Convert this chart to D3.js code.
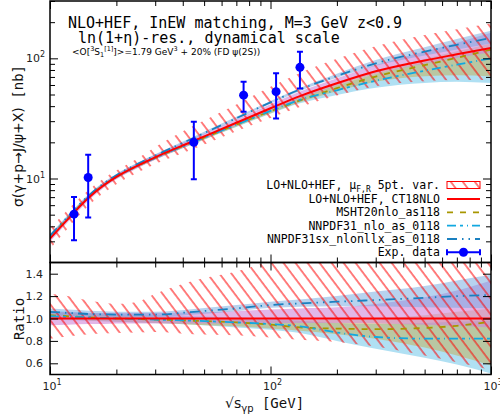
<!DOCTYPE html>
<html>
<head>
<meta charset="utf-8">
<script src="https://cdn.jsdelivr.net/npm/d3@7.9.0/dist/d3.min.js"></script>
<style>
  body { margin: 0; background: #fff; }
  svg { display: block; }
</style>
</head>
<body>
<svg id="chart" width="500" height="416"></svg>
<script>
const energies = [10, 12, 15, 17.5, 20, 25, 30, 45, 70, 100, 136, 200, 300, 500, 700, 1000];

// central prediction LO+NLO+HEF, CT18NLO [nb]
const central = [3.16, 4.55, 6.95, 8.76, 10.3, 12.8, 15.0, 20.6, 29.1, 38.4, 48.5, 62, 78, 96, 108, 122];

// ratios to central
const scaleLo = [0.82, 0.84, 0.86, 0.865, 0.87, 0.875, 0.88, 0.86, 0.85, 0.83, 0.81, 0.79, 0.75, 0.67, 0.61, 0.54];
const scaleHi = [1.22, 1.20, 1.16, 1.14, 1.13, 1.15, 1.22, 1.34, 1.42, 1.51, 1.56, 1.60, 1.62, 1.63, 1.62, 1.60];

const ctLo = [0.94, 0.945, 0.95, 0.952, 0.955, 0.955, 0.955, 0.955, 0.955, 0.96, 0.96, 0.96, 0.955, 0.945, 0.935, 0.92];
const ctHi = [1.06, 1.055, 1.05, 1.05, 1.05, 1.05, 1.05, 1.055, 1.065, 1.08, 1.09, 1.10, 1.13, 1.19, 1.25, 1.34];

const mshtMid = [1.03, 1.02, 1.01, 1.005, 1.0, 0.995, 0.99, 0.98, 0.965, 0.945, 0.92, 0.91, 0.905, 0.915, 0.935, 0.97];
const mshtLo = [1.0, 0.99, 0.98, 0.975, 0.97, 0.965, 0.96, 0.945, 0.93, 0.91, 0.89, 0.86, 0.82, 0.74, 0.67, 0.58];
const mshtHi = [1.06, 1.05, 1.04, 1.035, 1.03, 1.02, 1.015, 1.0, 0.995, 0.985, 0.985, 0.99, 1.0, 1.03, 1.06, 1.09];

const nnMid = [1.02, 1.015, 1.01, 1.005, 1.0, 0.995, 0.99, 0.98, 0.965, 0.95, 0.93, 0.875, 0.835, 0.82, 0.82, 0.82];
const nnLo = [0.99, 0.985, 0.98, 0.975, 0.97, 0.965, 0.96, 0.945, 0.92, 0.9, 0.87, 0.8, 0.73, 0.65, 0.59, 0.51];
const nnHi = [1.07, 1.06, 1.05, 1.045, 1.04, 1.035, 1.03, 1.02, 1.01, 1.0, 0.98, 0.96, 0.95, 0.96, 0.97, 0.98];

const sxMid = [1.06, 1.05, 1.04, 1.037, 1.035, 1.035, 1.035, 1.06, 1.09, 1.12, 1.135, 1.15, 1.165, 1.185, 1.2, 1.21];
const sxLo = [1.03, 1.025, 1.02, 1.017, 1.015, 1.015, 1.015, 1.035, 1.065, 1.095, 1.105, 1.11, 1.11, 1.10, 1.095, 1.09];
const sxHi = [1.09, 1.08, 1.07, 1.065, 1.06, 1.06, 1.06, 1.085, 1.12, 1.15, 1.17, 1.2, 1.24, 1.29, 1.34, 1.39];

// experimental data
const dataX = [12.85, 14.9, 44.9, 75.5, 106, 136];
const dataY = [5.05, 10.2, 20, 49.4, 52.8, 84.1];
const dataLo = [3.06, 4.73, 9.86, 35.9, 31.6, 56.2];
const dataHi = [7.0, 15.8, 29.7, 63.8, 75, 113.5];

const legendLabels = ['LO+NLO+HEF, μ', 'LO+NLO+HEF, CT18NLO', 'MSHT20nlo_as118',
  'NNPDF31_nlo_as_0118', 'NNPDF31sx_nlonllx_as_0118', 'Exp. data'];

const mono = 'DejaVu Sans Mono';
const sans = 'DejaVu Sans';

const svg = d3.select('#chart');
const left = 50, right = 491;
const mainTop = 1, mainBottom = 262.5, ratTop = 262.5, ratBottom = 374.5;

const x = d3.scaleLog().domain([10, 1000]).range([left, right]);
const yMain = d3.scaleLog().domain([2, 300]).range([mainBottom, mainTop]);
const yRat = d3.scaleLinear().domain([0.5, 1.5]).range([ratBottom, ratTop]);

const defs = svg.append('defs');
const hatch = defs.append('pattern')
  .attr('id', 'hatch')
  .attr('patternUnits', 'userSpaceOnUse')
  .attr('width', 9.6).attr('height', 9.6)
  .attr('patternTransform', 'rotate(-37)');
hatch.append('line')
  .attr('x1', 1).attr('y1', 0).attr('x2', 1).attr('y2', 9.6)
  .attr('stroke', '#ff0000').attr('stroke-width', 1);

defs.append('clipPath').attr('id', 'clipMain').append('rect')
  .attr('x', left).attr('y', mainTop).attr('width', right - left).attr('height', mainBottom - mainTop);
defs.append('clipPath').attr('id', 'clipRat').append('rect')
  .attr('x', left).attr('y', ratTop).attr('width', right - left).attr('height', ratBottom - ratTop);

const idx = d3.range(energies.length);

const bands = [
  { lo: nnLo, hi: nnHi, fill: '#8fd3ee', op: 0.7 },
  { lo: mshtLo, hi: mshtHi, fill: '#c9a227', op: 0.4 },
  { lo: ctLo, hi: ctHi, fill: '#cf85d8', op: 0.6 },
  { lo: sxLo, hi: sxHi, fill: '#6fa8e0', op: 0.5 }
];

const lines = [
  { v: mshtMid, color: '#a89600', dash: '6,7', w: 1.8 },
  { v: nnMid, color: '#12a8e0', dash: '9,4,3,4,1,4', w: 1.8 },
  { v: sxMid, color: '#1a80c0', dash: '10,5,1.5,5,1.5,5', w: 1.8 }
];

function drawPanel(g, yScale, factor) {
  const val = (arr, i) => arr[i] * factor(i);
  bands.forEach(b => {
    g.append('path')
      .datum(idx)
      .attr('d', d3.area().curve(d3.curveMonotoneX)
        .x(i => x(energies[i]))
        .y0(i => yScale(val(b.lo, i)))
        .y1(i => yScale(val(b.hi, i))))
      .attr('fill', b.fill)
      .attr('fill-opacity', b.op);
  });
  g.append('path')
    .datum(idx)
    .attr('d', d3.area().curve(d3.curveMonotoneX)
      .x(i => x(energies[i]))
      .y0(i => yScale(val(scaleLo, i)))
      .y1(i => yScale(val(scaleHi, i))))
    .attr('fill', 'url(#hatch)');
  lines.forEach(l => {
    g.append('path')
      .datum(idx)
      .attr('d', d3.line().curve(d3.curveMonotoneX)
        .x(i => x(energies[i]))
        .y(i => yScale(val(l.v, i))))
      .attr('fill', 'none')
      .attr('stroke', l.color)
      .attr('stroke-width', l.w)
      .attr('stroke-dasharray', l.dash);
  });
  g.append('path')
    .datum(idx)
    .attr('d', d3.line().curve(d3.curveMonotoneX)
      .x(i => x(energies[i]))
      .y(i => yScale(factor(i))))
    .attr('fill', 'none')
    .attr('stroke', '#ff0000')
    .attr('stroke-width', 2);
}

// main panel
const gMain = svg.append('g').attr('clip-path', 'url(#clipMain)');
drawPanel(gMain, yMain, i => central[i]);

// data points
const gData = gMain.append('g').attr('class', 'data');
dataX.forEach((dx, i) => {
  const px = x(dx);
  gData.append('line')
    .attr('x1', px).attr('x2', px)
    .attr('y1', yMain(dataLo[i])).attr('y2', yMain(dataHi[i]))
    .attr('stroke', '#0000ff').attr('stroke-width', 2);
  [dataLo[i], dataHi[i]].forEach(v => {
    gData.append('line')
      .attr('x1', px - 3).attr('x2', px + 3)
      .attr('y1', yMain(v)).attr('y2', yMain(v))
      .attr('stroke', '#0000ff').attr('stroke-width', 2);
  });
  gData.append('circle')
    .attr('cx', px).attr('cy', yMain(dataY[i])).attr('r', 4.5)
    .attr('fill', '#0000ff');
});

// ratio panel
const gRat = svg.append('g').attr('clip-path', 'url(#clipRat)');
drawPanel(gRat, yRat, () => 1);

// ticks
function tickSet(y0, axisFn, scale, values, size, pos) {
  const g = svg.append('g');
  if (pos === 'x') g.attr('transform', `translate(0,${y0})`);
  else g.attr('transform', `translate(${y0},0)`);
  g.call(axisFn(scale).tickValues(values).tickSize(size).tickFormat(''));
  g.select('.domain').remove();
  g.selectAll('.tick line').attr('stroke', '#000').attr('stroke-width', 1);
}

const xMajor = [10, 100, 1000];
const xMinor = [20, 30, 40, 50, 60, 70, 80, 90, 200, 300, 400, 500, 600, 700, 800, 900];
const yMajor = [10, 100];
const yMinor = [3, 4, 5, 6, 7, 8, 9, 20, 30, 40, 50, 60, 70, 80, 90, 200, 300];
const ratTicks = [0.6, 0.8, 1.0, 1.2, 1.4];

[mainTop, ratTop].forEach(t => {
  tickSet(t, d3.axisTop, x, xMajor, -8, 'x');
  tickSet(t, d3.axisTop, x, xMinor, -5, 'x');
});
[mainBottom, ratBottom].forEach(b => {
  tickSet(b, d3.axisBottom, x, xMajor, -8, 'x');
  tickSet(b, d3.axisBottom, x, xMinor, -5, 'x');
});
tickSet(left, d3.axisLeft, yMain, yMajor, -8, 'y');
tickSet(left, d3.axisLeft, yMain, yMinor, -5, 'y');
tickSet(right, d3.axisRight, yMain, yMajor, -8, 'y');
tickSet(right, d3.axisRight, yMain, yMinor, -5, 'y');
tickSet(left, d3.axisLeft, yRat, ratTicks, -8, 'y');
tickSet(right, d3.axisRight, yRat, ratTicks, -8, 'y');

// frames
[[mainTop, mainBottom], [ratTop, ratBottom]].forEach(([t, b]) => {
  svg.append('rect')
    .attr('x', left).attr('y', t).attr('width', right - left).attr('height', b - t)
    .attr('fill', 'none').attr('stroke', '#000').attr('stroke-width', 1.5);
});

// tick labels
function powLabel(xp, yp, exp, anchor) {
  const t = svg.append('text')
    .attr('x', xp).attr('y', yp)
    .attr('text-anchor', anchor)
    .attr('font-family', sans).attr('font-size', 11)
    .attr('fill', '#222');
  t.append('tspan').text('10');
  t.append('tspan').attr('dy', -5).attr('font-size', 8).text(exp);
}
yMajor.forEach(v => powLabel(left - 5, yMain(v) + 4, String(Math.round(Math.log10(v))), 'end'));
xMajor.forEach(v => powLabel(x(v) + 2, 390, String(Math.round(Math.log10(v))), 'middle'));

svg.append('g').selectAll('text')
  .data(ratTicks)
  .join('text')
  .attr('x', left - 7).attr('y', d => yRat(d) + 4)
  .attr('text-anchor', 'end')
  .attr('font-family', sans).attr('font-size', 11)
  .attr('fill', '#222')
  .text(d => d.toFixed(1));

// axis titles
const yTitle = svg.append('text')
  .attr('transform', `translate(23,136) rotate(-90)`)
  .attr('text-anchor', 'middle')
  .attr('font-size', 14).attr('fill', '#111');
yTitle.append('tspan').attr('font-family', sans).text('σ(γ+p→J/ψ+X)');
yTitle.append('tspan').attr('font-family', mono).text(' [nb]');

svg.append('text')
  .attr('transform', `translate(24,319) rotate(-90)`)
  .attr('text-anchor', 'middle')
  .attr('font-family', mono).attr('font-size', 14).attr('fill', '#111')
  .text('Ratio');

const xTitle = svg.append('text')
  .attr('x', 225).attr('y', 408)
  .attr('font-size', 14).attr('fill', '#111');
xTitle.append('tspan').attr('font-family', sans).text('√s');
xTitle.append('tspan').attr('font-family', sans).attr('font-size', 10).attr('dy', 4).text('γp');
xTitle.append('tspan').attr('font-family', mono).attr('dy', -4).text(' [GeV]');

// title block
svg.append('text')
  .attr('x', 68).attr('y', 28)
  .attr('font-family', mono).attr('font-size', 15).attr('fill', '#000')
  .text('NLO+HEF, InEW matching, M=3 GeV z<0.9');
svg.append('text')
  .attr('x', 78).attr('y', 42.5)
  .attr('font-family', mono).attr('font-size', 15).attr('fill', '#000')
  .text('ln(1+η)-res., dynamical scale');
const sub = svg.append('text')
  .attr('x', 72).attr('y', 54.5)
  .attr('font-family', sans).attr('font-size', 9).attr('fill', '#000');
sub.append('tspan').text('<O[');
sub.append('tspan').attr('font-size', 6.5).attr('dy', -3.5).text('3');
sub.append('tspan').attr('dy', 3.5).text('S');
sub.append('tspan').attr('font-size', 6.5).attr('dy', 2).text('1');
sub.append('tspan').attr('font-size', 6.5).attr('dy', -6).text('[1]');
sub.append('tspan').attr('dy', 4).text(']>=1.79 GeV');
sub.append('tspan').attr('font-size', 6.5).attr('dy', -3.5).text('3');
sub.append('tspan').attr('dy', 3.5).text(' + 20% (FD ψ(2S))');

// legend
const legRows = [185, 199, 212.3, 225.7, 239, 252.3];
const legText = svg.append('g')
  .attr('font-family', mono).attr('font-size', 11.5).attr('fill', '#000')
  .attr('text-anchor', 'end');
legRows.forEach((ry, i) => {
  const t = legText.append('text').attr('x', 440).attr('y', ry + 4);
  if (i === 0) {
    t.append('tspan').text(legendLabels[0]);
    t.append('tspan').attr('font-size', 8).attr('dy', 3).text('F,R');
    t.append('tspan').attr('dy', -3).text(' 5pt. var.');
  } else {
    t.text(legendLabels[i]);
  }
});
const sx0 = 447, sx1 = 480;
svg.append('rect')
  .attr('x', sx0).attr('y', legRows[0] - 3.5).attr('width', sx1 - sx0).attr('height', 7)
  .attr('fill', 'url(#hatch)').attr('stroke', '#ff0000').attr('stroke-width', 1);
svg.append('line')
  .attr('x1', sx0).attr('x2', sx1).attr('y1', legRows[1]).attr('y2', legRows[1])
  .attr('stroke', '#ff0000').attr('stroke-width', 2);
lines.forEach((l, i) => {
  svg.append('line')
    .attr('x1', sx0).attr('x2', sx1).attr('y1', legRows[i + 2]).attr('y2', legRows[i + 2])
    .attr('stroke', l.color).attr('stroke-width', l.w).attr('stroke-dasharray', l.dash);
});
const ly = legRows[5];
svg.append('line').attr('x1', sx0).attr('x2', sx1).attr('y1', ly).attr('y2', ly)
  .attr('stroke', '#0000ff').attr('stroke-width', 2);
[sx0, sx1].forEach(cx => {
  svg.append('line').attr('x1', cx).attr('x2', cx).attr('y1', ly - 3).attr('y2', ly + 3)
    .attr('stroke', '#0000ff').attr('stroke-width', 2);
});
svg.append('circle').attr('cx', (sx0 + sx1) / 2).attr('cy', ly).attr('r', 4.5).attr('fill', '#0000ff');
</script>
</body>
</html>
